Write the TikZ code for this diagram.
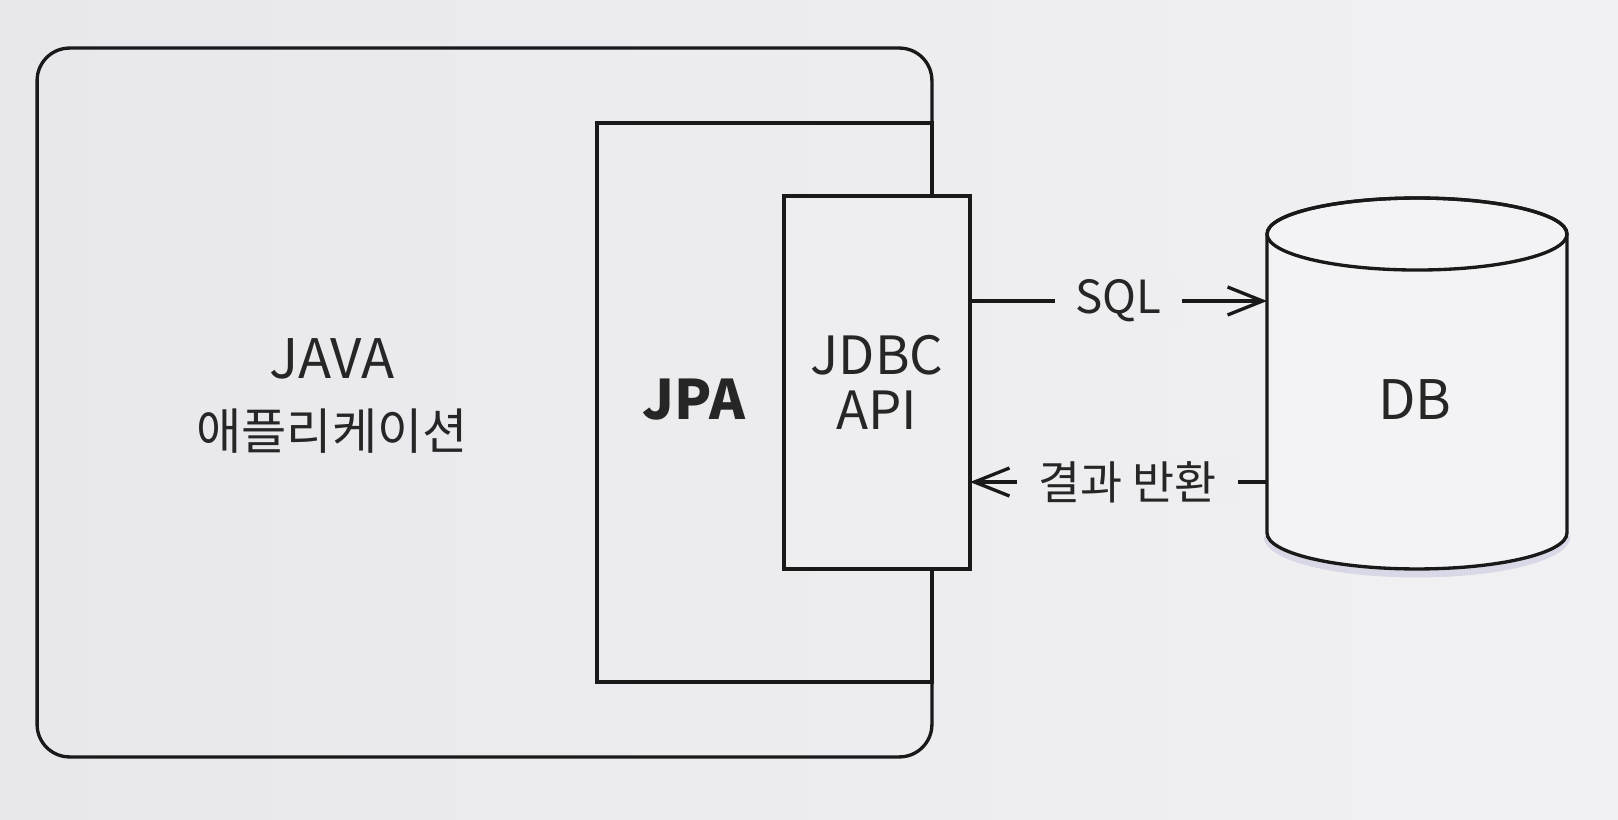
\documentclass[tikz,border=0pt]{standalone}
\usepackage{fontspec}
\setmainfont{Noto Sans CJK KR}
\usepackage{tikz}
\usetikzlibrary{arrows.meta}

\definecolor{bgleft}{RGB}{232,232,236}
\definecolor{bgright}{RGB}{241,241,243}
\definecolor{bgmid}{RGB}{238,238,241}
\definecolor{dbfill}{RGB}{243,243,245}
\definecolor{dbshadow}{RGB}{200,200,222}

\begin{document}
\begin{tikzpicture}[x=0.02cm, y=-0.02cm,
  every node/.style={outer sep=0pt, text=black!85},
  box/.style={draw=black!90, line width=1.9pt},
  word/.style={font=\fontsize{31}{40}\selectfont},
  tag/.style={fill=bgmid, inner xsep=0.42cm, inner ysep=2pt, font=\fontsize{26}{30}\selectfont},
  flow/.style={draw=black!90, line width=1.9pt, -{Straight Barb[length=0.7cm, width=0.56cm, line width=1.9pt]}},
  back/.style={draw=black!90, line width=1.9pt, {Straight Barb[length=0.7cm, width=0.56cm, line width=1.9pt]}-}]
\shade[left color=bgleft, right color=bgright] (0,0) rectangle (1618,820);

\node[box, rounded corners=0.65cm, minimum width=17.9cm, minimum height=14.18cm] (app) at (484.5,402.5) {};
\node[box, minimum width=6.7cm, minimum height=11.18cm] (jpa) at (764.5,402.5) {};
\node[box, fill=bgmid, minimum width=3.72cm, minimum height=7.46cm, align=center, font=\fontsize{30}{31}\selectfont] (jdbc) at (877,382.5) {JDBC\\API};

\node[align=center, font=\fontsize{28}{40}\selectfont] (applabel) at (332,396) {{\fontsize{31}{40}\selectfont JAVA}\\애플리케이션};
\node[font=\fontsize{31}{40}\selectfont\bfseries] (jpalabel) at (694,400) {JPA};

% DB cylinder
\node[minimum width=6cm, minimum height=7.42cm] (db) at (1417,383.5) {};
\draw[dbshadow, line width=4pt, opacity=0.6] ([yshift=0.66cm]db.south west) arc[start angle=180, end angle=360, x radius=3cm, y radius=0.76cm];
\draw[box, fill=dbfill] ([yshift=-0.72cm]db.north west) -- ([yshift=0.72cm]db.south west)
  arc[start angle=180, end angle=360, x radius=3cm, y radius=0.72cm]
  -- ([yshift=-0.72cm]db.north east)
  arc[start angle=0, end angle=180, x radius=3cm, y radius=0.72cm] -- cycle;
\draw[box] ([yshift=-0.72cm]db.north) ellipse[x radius=3cm, y radius=0.72cm];
\node[word] (dblabel) at (1415,400) {DB};

\draw[flow] (jdbc.east |- 0,301) -- node[tag] {SQL} (db.west |- 0,301);
\draw[back] (jdbc.east |- 0,482) -- node[tag, pos=0.53] {결과 반환} (db.west |- 0,482);
\end{tikzpicture}
\end{document}
